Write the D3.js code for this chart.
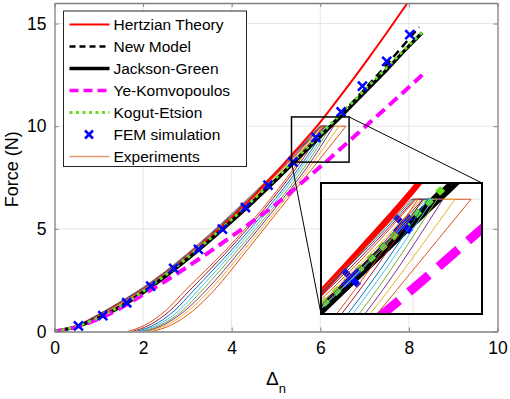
<!DOCTYPE html>
<html>
<head>
<meta charset="utf-8">
<script src="https://cdn.jsdelivr.net/npm/d3@7"></script>
<style>
  body { margin: 0; background: #fff; }
  svg text { font-family: "Liberation Sans", Arial, Helvetica, sans-serif; fill: #000; }
</style>
</head>
<body>
<div id="chart"></div>
<script>
var width = 510, height = 399;
var margins = { top: 3, right: 12.5, bottom: 67.5, left: 54.5 };

// axis ticks
var xTicks = [0, 2, 4, 6, 8, 10];
var yTicks = [0, 5, 10, 15];

// Hertzian theory
var hertzX = [0, 0.5, 1, 1.5, 2, 2.5, 3, 3.5, 4, 4.5, 5, 5.5, 6, 6.5, 7, 7.5, 8];
var hertzF = [0, 0.24, 0.68, 1.25, 1.93, 2.72, 3.6, 4.55, 5.55, 6.6, 7.75, 8.95, 10.2, 11.6, 13.05, 14.55, 16.1];

// New model (dashed)
var newX = [0, 0.5, 1, 1.5, 2, 2.5, 3, 3.5, 4, 4.5, 5, 5.5, 6, 6.5, 7, 7.5, 8, 8.23];
var newF = [0, 0.24, 0.67, 1.23, 1.91, 2.69, 3.53, 4.43, 5.38, 6.37, 7.4, 8.46, 9.53, 10.65, 11.8, 13.0, 14.25, 14.83];

// Jackson-Green
var jgX = [0, 0.5, 1, 1.5, 2, 2.5, 3, 3.5, 4, 4.5, 5, 5.5, 6, 6.5, 7, 7.5, 8, 8.3];
var jgF = [0, 0.24, 0.66, 1.22, 1.9, 2.68, 3.52, 4.42, 5.37, 6.35, 7.38, 8.44, 9.5, 10.55, 11.65, 12.75, 13.9, 14.55];

// Ye-Komvopoulos
var ykX = [0, 0.5, 1, 1.5, 2, 2.5, 3, 3.5, 4, 4.5, 5, 5.5, 6, 6.5, 7, 7.5, 8, 8.3];
var ykF = [0, 0.22, 0.62, 1.15, 1.8, 2.45, 3.15, 3.88, 4.63, 5.4, 6.2, 7.1, 8.02, 8.98, 9.95, 10.92, 11.9, 12.5];

// Kogut-Etsion
var keX = [0, 0.5, 1, 1.5, 2, 2.5, 3, 3.5, 4, 4.5, 5, 5.5, 6, 6.5, 7, 7.5, 8, 8.34];
var keF = [0, 0.25, 0.69, 1.26, 1.95, 2.74, 3.59, 4.5, 5.46, 6.45, 7.47, 8.53, 9.6, 10.68, 11.76, 12.86, 13.95, 14.65];

// FEM simulation
var femX = [0.54, 1.09, 1.63, 2.17, 2.69, 3.25, 3.79, 4.31, 4.82, 5.38, 5.9, 6.47, 6.95, 7.5, 8.02];
var femF = [0.27, 0.77, 1.4, 2.21, 3.07, 4.0, 4.99, 6.04, 7.13, 8.26, 9.45, 10.7, 11.95, 13.16, 14.46];

// Experiments: loading on a shared x grid, hold at peak force, unloading on shared force levels
var expColors = ["#D95319", "#EDB120", "#7E2F8E", "#77AC30", "#4DBEEE", "#0072BD", "#A2142F", "#D95319"];
var expLoadX = [0, 0.5, 1, 1.5, 2, 2.5, 3, 3.5, 4, 4.5, 5, 5.5];
var expLoadF = [
  [0, 0.3, 0.85, 1.47, 2.15, 2.93, 3.8, 4.74, 5.73, 6.75, 7.8, 8.88],
  [0, 0.26, 0.75, 1.34, 2.0, 2.78, 3.62, 4.54, 5.5, 6.5, 7.54, 8.62],
  [0, 0.25, 0.72, 1.3, 1.97, 2.74, 3.58, 4.49, 5.45, 6.44, 7.48, 8.56],
  [0, 0.25, 0.7, 1.27, 1.94, 2.71, 3.55, 4.46, 5.42, 6.4, 7.43, 8.5],
  [0, 0.24, 0.68, 1.25, 1.92, 2.7, 3.54, 4.44, 5.4, 6.38, 7.41, 8.47],
  [0, 0.29, 0.83, 1.45, 2.12, 2.9, 3.76, 4.7, 5.69, 6.7, 7.75, 8.83],
  [0, 0.28, 0.81, 1.42, 2.08, 2.86, 3.72, 4.65, 5.63, 6.64, 7.68, 8.77],
  [0, 0.27, 0.78, 1.38, 2.04, 2.82, 3.67, 4.6, 5.57, 6.57, 7.61, 8.7]
];
var expPeakF = 10;
var expPeakX = [5.98, 6.08, 6.1, 6.12, 6.15, 6.0, 6.02, 6.03];
var expEndX = [6.58, 6.42, 6.3, 6.24, 6.2, 6.15, 6.1, 6.05];
var expUnloadF = [10, 8, 6, 4, 2, 1, 0.3, 0];
var expUnloadX = [
  [6.58, 5.84, 5.1, 4.36, 3.6, 3.12, 2.62, 2.2],
  [6.42, 5.76, 5.04, 4.29, 3.5, 3.02, 2.52, 2.1],
  [6.3, 5.7, 4.98, 4.22, 3.42, 2.94, 2.44, 2.02],
  [6.24, 5.64, 4.93, 4.15, 3.33, 2.88, 2.38, 1.98],
  [6.2, 5.58, 4.87, 4.08, 3.24, 2.8, 2.31, 1.92],
  [6.15, 5.53, 4.81, 4.01, 3.14, 2.7, 2.23, 1.85],
  [6.1, 5.47, 4.75, 3.94, 3.05, 2.6, 2.13, 1.75],
  [6.05, 5.42, 4.7, 3.88, 2.95, 2.5, 2.03, 1.65]
];

// zoom box drawn on the main axes, and the inset's own limits
var zoomBox = { x0: 5.35, x1: 6.65, y0: 8.25, y1: 10.45 };
var insetXDomain = [5.08, 6.69], insetYDomain = [7.46, 10.36];
var insetXTicks = [6], insetYTicks = [10];

var legendLabels = ["Hertzian Theory", "New Model", "Jackson-Green", "Ye-Komvopoulos", "Kogut-Etsion", "FEM simulation", "Experiments"];

function pts(xs, ys) { return xs.map((x, i) => [x, ys[i]]); }

var series = [
  { key: "hertz", data: pts(hertzX, hertzF), color: "#FF0000", w: 2, dash: null, iw: 6, idash: null },
  { key: "jg", data: pts(jgX, jgF), color: "#000000", w: 3.5, dash: null, iw: 9, idash: null },
  { key: "new", data: pts(newX, newF), color: "#000000", w: 2.5, dash: "8,5", iw: 7, idash: "16,9" },
  { key: "yk", data: pts(ykX, ykF), color: "#FF00FF", w: 4, dash: "11,6", iw: 9, idash: "26,13" },
  { key: "ke", data: pts(keX, keF), color: "#66DD22", w: 3, dash: "3,4", iw: 7, idash: "7,9" }
];

var svg = d3
  .select("#chart")
  .append("svg")
  .attr("width", width)
  .attr("height", height);

var x = d3.scaleLinear().domain([0, 10]).range([margins.left, width - margins.right]);
var y = d3.scaleLinear().domain([0, 16]).range([height - margins.bottom, margins.top]);

svg.append("defs").append("clipPath").attr("id", "main-clip")
  .append("rect")
  .attr("x", x(0)).attr("y", y(16))
  .attr("width", x(10) - x(0)).attr("height", y(0) - y(16));

// grid
svg.append("g").selectAll("line").data(xTicks.slice(1, -1)).join("line")
  .attr("x1", (d) => x(d)).attr("x2", (d) => x(d))
  .attr("y1", y(0)).attr("y2", y(16))
  .attr("stroke", "#e6e6e6").attr("stroke-width", 1);
svg.append("g").selectAll("line").data(yTicks.slice(1)).join("line")
  .attr("x1", x(0)).attr("x2", x(10))
  .attr("y1", (d) => y(d)).attr("y2", (d) => y(d))
  .attr("stroke", "#e6e6e6").attr("stroke-width", 1);

function drawLines(g, xs, ys, big) {
  var line = d3.line().x((d) => xs(d[0])).y((d) => ys(d[1])).curve(d3.curveMonotoneX);
  var lineStraight = d3.line().x((d) => xs(d[0])).y((d) => ys(d[1]));

  function drawModel(s) {
    g.append("path")
      .attr("d", line(s.data))
      .attr("fill", "none")
      .attr("stroke", s.color)
      .attr("stroke-width", big ? s.iw : s.w)
      .attr("stroke-dasharray", big ? s.idash : s.dash);
  }

  function drawFem() {
    var s = big ? 8 : 4.5;
    g.append("g").selectAll("path").data(pts(femX, femF)).join("path")
      .attr("d", (d) => {
        var px = xs(d[0]), py = ys(d[1]);
        return "M" + (px - s) + "," + (py - s) + "L" + (px + s) + "," + (py + s) +
          "M" + (px - s) + "," + (py + s) + "L" + (px + s) + "," + (py - s);
      })
      .attr("stroke", "#0000FF")
      .attr("stroke-width", big ? 6 : 2.5)
      .attr("fill", "none");
  }

  function drawExperiments() {
    expLoadF.forEach(function (f, i) {
      var load = pts(expLoadX, f).concat([[expPeakX[i], expPeakF]]);
      var unload = pts(expUnloadX[i], expUnloadF).reverse();
      var eg = g.append("g").attr("fill", "none").attr("stroke", expColors[i]).attr("stroke-width", 1);
      eg.append("path").attr("d", line(load));
      eg.append("path").attr("d", lineStraight([[expPeakX[i], expPeakF], [expEndX[i], expPeakF]]));
      eg.append("path").attr("d", line(unload));
    });
  }

  if (big) {
    series.forEach(drawModel);
    drawFem();
    drawExperiments();
  } else {
    drawExperiments();
    series.forEach(drawModel);
    drawFem();
  }
}

var plot = svg.append("g").attr("clip-path", "url(#main-clip)");
drawLines(plot, x, y, false);

// axes box, ticks inside on all sides
var axisColor = "#808080";
var xAxisB = d3.axisBottom(x).tickValues(xTicks).tickSizeInner(-4).tickSizeOuter(0).tickPadding(10);
var xAxisT = d3.axisTop(x).tickValues(xTicks).tickSizeInner(-4).tickSizeOuter(0).tickFormat("");
var yAxisL = d3.axisLeft(y).tickValues(yTicks).tickSizeInner(-4).tickSizeOuter(0).tickPadding(8);
var yAxisR = d3.axisRight(y).tickValues(yTicks).tickSizeInner(-4).tickSizeOuter(0).tickFormat("");

function styleAxis(g) {
  g.select(".domain").attr("stroke", axisColor).attr("stroke-width", 1.3);
  g.selectAll(".tick line").attr("stroke", axisColor);
  g.selectAll("text").attr("font-size", 17.5).attr("fill", "#000")
    .attr("font-family", "Liberation Sans, Arial, sans-serif");
}

svg.append("g").attr("transform", "translate(0," + y(0) + ")").call(xAxisB).call(styleAxis);
svg.append("g").attr("transform", "translate(0," + y(16) + ")").call(xAxisT).call(styleAxis);
svg.append("g").attr("transform", "translate(" + x(0) + ",0)").call(yAxisL).call(styleAxis);
svg.append("g").attr("transform", "translate(" + x(10) + ",0)").call(yAxisR).call(styleAxis);

// axis labels
svg.append("text")
  .attr("transform", "translate(18," + (y(8) + 2) + ") rotate(-90)")
  .attr("text-anchor", "middle")
  .attr("font-size", 18)
  .text("Force (N)");

var xl = svg.append("text")
  .attr("x", (x(0) + x(10)) / 2)
  .attr("y", 385)
  .attr("text-anchor", "middle")
  .attr("font-size", 19);
xl.append("tspan").text("Δ");
xl.append("tspan").attr("font-size", 13).attr("dy", 8).text("n");

// zoom box and connectors
var ix = d3.scaleLinear().domain(insetXDomain).range([321, 482]);
var iy = d3.scaleLinear().domain(insetYDomain).range([314, 183]);

svg.append("rect")
  .attr("x", x(zoomBox.x0)).attr("y", y(zoomBox.y1))
  .attr("width", x(zoomBox.x1) - x(zoomBox.x0))
  .attr("height", y(zoomBox.y0) - y(zoomBox.y1))
  .attr("fill", "none").attr("stroke", "#000").attr("stroke-width", 1.5);

svg.append("line")
  .attr("x1", x(zoomBox.x1)).attr("y1", y(zoomBox.y1))
  .attr("x2", ix.range()[1]).attr("y2", iy.range()[1])
  .attr("stroke", "#000").attr("stroke-width", 1);
svg.append("line")
  .attr("x1", x(zoomBox.x0)).attr("y1", y(zoomBox.y0))
  .attr("x2", ix.range()[0]).attr("y2", iy.range()[0])
  .attr("stroke", "#000").attr("stroke-width", 1);

// inset axes
var inset = svg.append("g");
inset.append("rect")
  .attr("x", 321).attr("y", 183).attr("width", 161).attr("height", 131)
  .attr("fill", "#fff");
inset.append("clipPath").attr("id", "inset-clip")
  .append("rect").attr("x", 321).attr("y", 183).attr("width", 161).attr("height", 131);
inset.selectAll(".ig-x").data(insetXTicks).join("line")
  .attr("x1", (d) => ix(d)).attr("x2", (d) => ix(d)).attr("y1", 183).attr("y2", 314)
  .attr("stroke", "#e6e6e6");
inset.selectAll(".ig-y").data(insetYTicks).join("line")
  .attr("x1", 321).attr("x2", 482).attr("y1", (d) => iy(d)).attr("y2", (d) => iy(d))
  .attr("stroke", "#e6e6e6");
var insetPlot = inset.append("g").attr("clip-path", "url(#inset-clip)");
drawLines(insetPlot, ix, iy, true);
inset.append("rect")
  .attr("x", 321).attr("y", 183).attr("width", 161).attr("height", 131)
  .attr("fill", "none").attr("stroke", "#000").attr("stroke-width", 2);

// legend
var legend = svg.append("g");
legend.append("rect")
  .attr("x", 63.5).attr("y", 11).attr("width", 183).attr("height", 155.5)
  .attr("fill", "#fff").attr("stroke", "#262626").attr("stroke-width", 1);

var legendItems = [
  { color: "#FF0000", w: 2, dash: null },
  { color: "#000000", w: 2.5, dash: "6,4" },
  { color: "#000000", w: 3.5, dash: null },
  { color: "#FF00FF", w: 3.5, dash: "9,5" },
  { color: "#66DD22", w: 3, dash: "3,3.5" },
  { marker: true },
  { color: "#E89A72", w: 1.5, dash: null }
];

legendItems.forEach(function (it, i) {
  var ly = 24.5 + i * 22;
  if (it.marker) {
    legend.append("path")
      .attr("d", "M" + 85 + "," + (ly - 4) + "L" + 93 + "," + (ly + 4) +
        "M" + 85 + "," + (ly + 4) + "L" + 93 + "," + (ly - 4))
      .attr("stroke", "#0000FF").attr("stroke-width", 2.5);
  } else {
    legend.append("line")
      .attr("x1", 69.5).attr("x2", 109.5).attr("y1", ly).attr("y2", ly)
      .attr("stroke", it.color).attr("stroke-width", it.w)
      .attr("stroke-dasharray", it.dash);
  }
  legend.append("text")
    .attr("x", 113.5).attr("y", ly)
    .attr("dy", "0.35em")
    .attr("font-size", 15.5)
    .text(legendLabels[i]);
});
</script>
</body>
</html>
